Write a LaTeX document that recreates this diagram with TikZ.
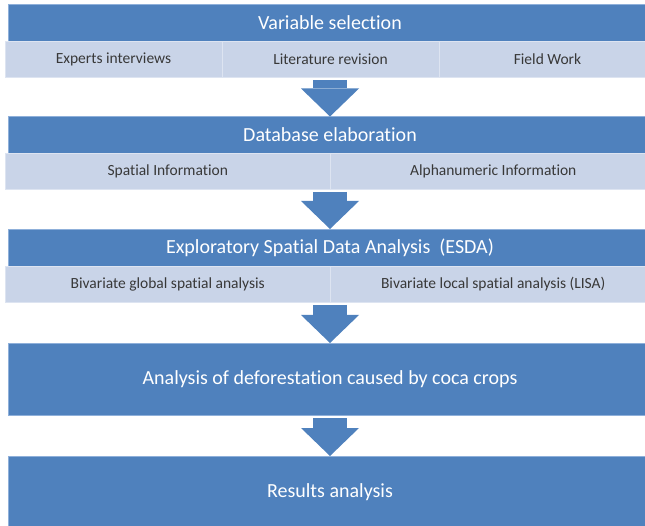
\documentclass[tikz,border=0pt]{standalone}
\usepackage{fontspec}
\setmainfont[Ligatures=NoCommon]{Carlito}
\usepackage{xcolor}
\usetikzlibrary{
  positioning,
  arrows.meta,
  calc
}

\definecolor{barblue}{HTML}{4F81BD}
\definecolor{baredge}{HTML}{8FB0DA}
\definecolor{cellblue}{HTML}{C9D4E8}
\definecolor{celledge}{HTML}{DDE4F1}
\definecolor{celltext}{HTML}{383838}

\begin{document}
\begin{tikzpicture}[
  x=1pt, y=-1pt,
  bar/.style={
    fill=barblue,
    draw=baredge,
    text=white,
    minimum width=644pt,
    minimum height=37pt,
    inner sep=0pt,
    outer sep=0pt,
    font=\fontsize{20}{24}\selectfont
  },
  bigbar/.style={
    bar,
    minimum height=72pt
  },
  cell/.style={
    fill=cellblue,
    draw=celledge,
    text=celltext,
    minimum height=36pt,
    inner sep=0pt,
    outer sep=0pt,
    font=\fontsize{15.5}{18}\selectfont
  },
  third/.style={cell, minimum width=217pt},
  half/.style={cell, minimum width=325.5pt},
  blockarrow/.style={
    draw=barblue,
    line width=34pt,
    shorten <=3pt,
    -{Triangle[length=28pt, width=58pt, line width=0pt]}
  }
]

\clip (0,0) rectangle (645,526);

% Variable selection
\node[bar] (varsel) at (330,22.5) {Variable selection};
\node[third, anchor=north west] (experts) at (5,41) {Experts interviews};
\node[third, right=0pt of experts] (litrev) {Literature revision};
\node[third, right=0pt of litrev] (field) {Field Work};

% Database elaboration
\node[bar] (dbase) at (330,135) {Database elaboration};
\node[half, anchor=north west] (spatial) at (5,153) {Spatial Information};
\node[half, right=0pt of spatial] (alpha) {Alphanumeric Information};

% ESDA
\node[bar] (esda) at (330,247.5) {Exploratory Spatial Data Analysis\ \ (ESDA)};
\node[half, anchor=north west] (bivglob) at (5,266) {Bivariate global spatial analysis};
\node[half, right=0pt of bivglob] (bivloc) {Bivariate local spatial analysis (LISA)};

% Deforestation and results
\node[bigbar] (defor) at (330,379) {Analysis of deforestation caused by coca crops};
\node[bigbar] (results) at (330,492) {Results analysis};

% Arrows
\draw[blockarrow] (dbase.north |- litrev.south) -- (dbase.north);
\draw[blockarrow] (esda.north |- spatial.south) -- (esda.north);
\draw[blockarrow] (defor.north |- bivglob.south) -- (defor.north);
\draw[blockarrow] (defor.south) -- (results.north);

\end{tikzpicture}
\end{document}
